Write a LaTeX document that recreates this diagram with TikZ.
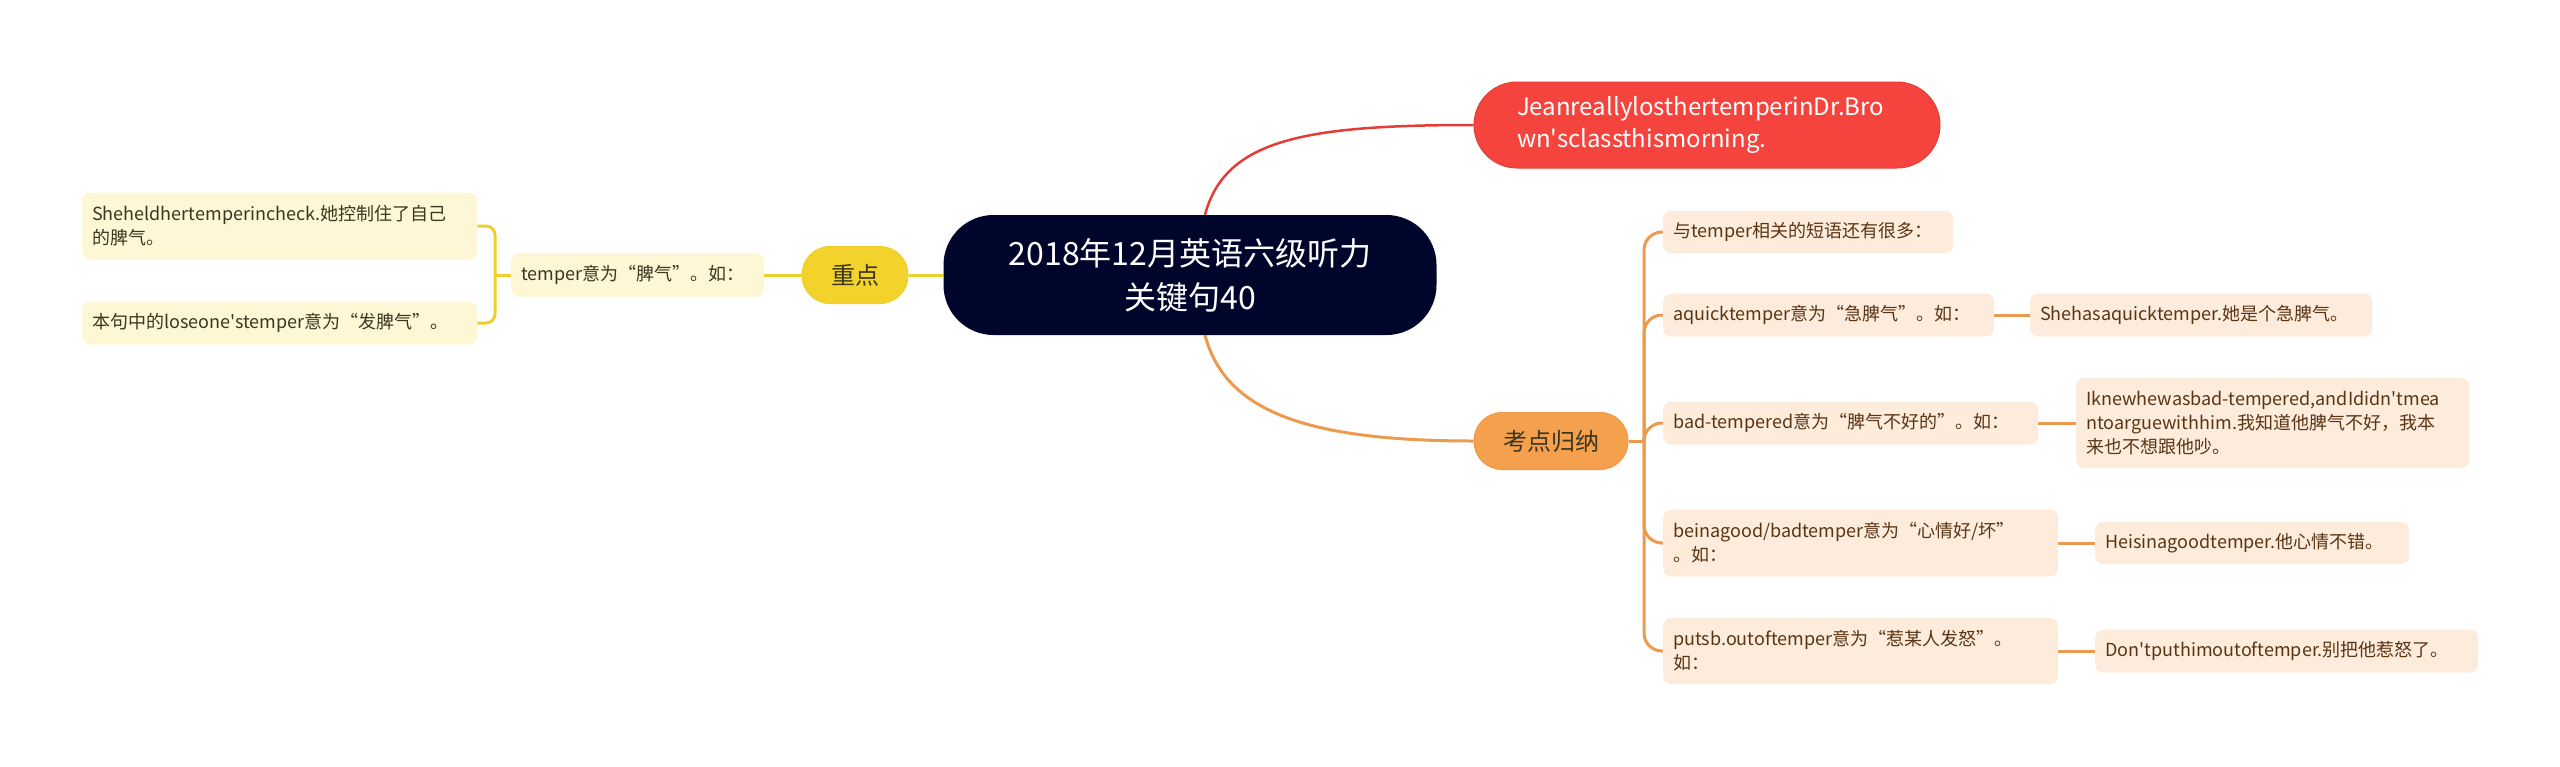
\documentclass[tikz,border=0pt]{standalone}
\usepackage{fontspec}
\setmainfont{Noto Sans CJK SC}[Ligatures=TeXOff]
\usetikzlibrary{backgrounds}
\definecolor{navy}{HTML}{00052B}
\definecolor{redfill}{HTML}{F5443D}
\definecolor{redline}{HTML}{E23E37}
\definecolor{ylwfill}{HTML}{F2D22B}
\definecolor{ylwline}{HTML}{EFCF2A}
\definecolor{ylwlight}{HTML}{FDF7D5}
\definecolor{orgfill}{HTML}{F5A04C}
\definecolor{orgline}{HTML}{EC9A4D}
\definecolor{peach}{HTML}{FDEBDC}
\definecolor{browntext}{HTML}{5A3514}
\definecolor{darktext}{HTML}{3B3620}
\tikzset{
  rootbox/.style={fill=navy, text=white, rounded corners=50pt, minimum width=493pt, minimum height=120pt, align=center, inner sep=0pt, font=\fontsize{32}{44}\selectfont},
  redbox/.style={fill=redfill, draw=redline, line width=1pt, text=white, rounded corners=43pt, minimum height=86pt, inner xsep=43pt, inner ysep=0pt, text width=380pt, align=left, font=\fontsize{24}{32}\selectfont},
  lvlone/.style={rounded corners=28pt, minimum height=57pt, inner sep=0pt, align=center, font=\fontsize{24}{30}\selectfont},
  leafy/.style={fill=ylwlight, text=darktext, rounded corners=8pt, inner xsep=10pt, inner ysep=0pt, align=left, anchor=west, font=\fontsize{18}{24}\selectfont},
  leafo/.style={fill=peach, text=browntext, rounded corners=8pt, inner xsep=10pt, inner ysep=0pt, align=left, anchor=west, font=\fontsize{18}{24}\selectfont},
  yconn/.style={draw=ylwline, line width=3pt},
  oconn/.style={draw=orgline, line width=3pt},
  rconn/.style={draw=redline, line width=2.5pt},
}
\begin{document}
\begin{tikzpicture}[x=1pt,y=-1pt]
\useasboundingbox (0,0) rectangle (2560,766);
% nodes
\node[rootbox] (root) at (1190,275) {2018年12月英语六级听力\\关键句40};
\node[redbox] (red) at (1707,125) {JeanreallylosthertemperinDr.Bro\\wn's{}classthismorning.};
\node[lvlone, fill=ylwfill, draw=ylwline, line width=1pt, text=darktext, minimum width=106pt] (zd) at (855,275) {重点};
\node[lvlone, fill=orgfill, draw=orgline, line width=1pt, text=darktext, minimum width=154pt] (kd) at (1551,441) {考点归纳};
\node[leafy, text width=233pt, minimum height=44pt] (tm) at (511,275) {temper意为“脾气”。如：};
\node[leafy, text width=375pt, minimum height=67pt] (l1) at (82,226) {Sheheldhertemperincheck.她控制住了自己\\的脾气。};
\node[leafy, text width=375pt, minimum height=43pt] (l2) at (82,323) {本句中的loseone's{}temper意为“发脾气”。};
\node[leafo, text width=270pt, minimum height=42pt] (c1) at (1663,232) {与temper相关的短语还有很多：};
\node[leafo, text width=311pt, minimum height=43pt] (c2) at (1663,315) {aquicktemper意为“急脾气”。如：};
\node[leafo, text width=355pt, minimum height=43pt] (c3) at (1663,423) {bad-tempered意为“脾气不好的”。如：};
\node[leafo, text width=375pt, minimum height=67pt] (c4) at (1663,543) {beinagood/badtemper意为“心情好/坏”\\。如：};
\node[leafo, text width=375pt, minimum height=66pt] (c5) at (1663,651) {putsb.outoftemper意为“惹某人发怒”。\\如：};
\node[leafo, text width=322pt, minimum height=43pt] (g1) at (2030,315) {Shehasaquicktemper.她是个急脾气。};
\node[leafo, text width=373pt, minimum height=90pt] (g2) at (2076,423) {Iknewhewasbad-tempered,andIdidn't{}mea\\ntoarguewithhim.我知道他脾气不好，我本\\来也不想跟他吵。};
\node[leafo, text width=294pt, minimum height=42pt] (g3) at (2095,543) {Heisinagoodtemper.他心情不错。};
\node[leafo, text width=363pt, minimum height=43pt] (g4) at (2095,651) {Don't{}puthimoutoftemper.别把他惹怒了。};
% connectors
\begin{scope}[on background layer]
\draw[rconn] ([xshift=15pt]root.north) .. controls +(20,-75) and +(-170,0) .. (red.west);
\draw[oconn] ([xshift=15pt]root.south) .. controls +(20,75) and +(-170,0) .. (kd.west);
\draw[yconn] (root.west) -- (zd.east);
\draw[yconn] (zd.west) -- (tm.east);
\coordinate (bk) at (495,275);
\draw[yconn] (tm.west) -- (bk);
\draw[yconn, rounded corners=9pt] (l1.east) -| (bk) |- (l2.east);
\coordinate (tr) at (1644,441);
\draw[oconn] (kd.east) -- (tr);
\foreach \c in {c1,c2,c3,c4,c5}{
  \draw[oconn, rounded corners=18pt] (tr) |- (\c.west);
}
\draw[oconn] (c2.east) -- (g1.west);
\draw[oconn] (c3.east) -- (g2.west);
\draw[oconn] (c4.east) -- (g3.west);
\draw[oconn] (c5.east) -- (g4.west);
\end{scope}
\end{tikzpicture}
\end{document}
